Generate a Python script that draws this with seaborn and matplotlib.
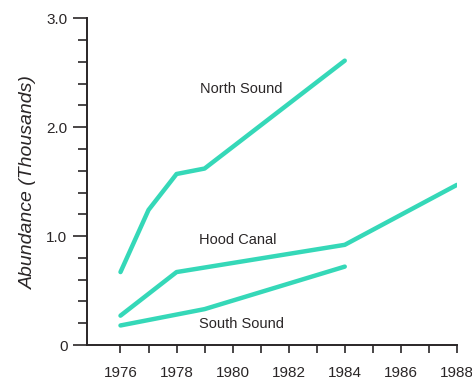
import matplotlib
matplotlib.use("Agg")
import matplotlib.pyplot as plt
import seaborn as sns
import pandas as pd
from matplotlib.ticker import FixedLocator

# data
north_years = [1976, 1977, 1978, 1979, 1984]
north_vals = [0.67, 1.24, 1.57, 1.62, 2.61]
hood_years = [1976, 1978, 1984, 1988]
hood_vals = [0.27, 0.67, 0.92, 1.47]
south_years = [1976, 1979, 1984]
south_vals = [0.18, 0.33, 0.72]

labels = ["North Sound", "Hood Canal", "South Sound"]
label_pos = [(1980.3, 2.35), (1980.2, 0.96), (1980.3, 0.19)]

df = pd.concat([
    pd.DataFrame({"Year": north_years, "Abundance": north_vals, "Site": "North Sound"}),
    pd.DataFrame({"Year": hood_years, "Abundance": hood_vals, "Site": "Hood Canal"}),
    pd.DataFrame({"Year": south_years, "Abundance": south_vals, "Site": "South Sound"}),
])

sns.set_style("white")
plt.rcParams["font.family"] = ["Liberation Sans", "DejaVu Sans"]

line_color = "#35d8b8"
ink = "#2a2627"

fig = plt.figure(figsize=(4.72, 3.86), dpi=100)
ax = fig.add_axes([0.184, 0.106, 0.784, 0.847])

sns.lineplot(data=df, x="Year", y="Abundance", units="Site", estimator=None,
             color=line_color, linewidth=3.2, ax=ax, legend=False, sort=False)

for lab, (x, y) in zip(labels, label_pos):
    ax.text(x, y, lab, ha="center", va="center", fontsize=10.5, color=ink)

ax.set_xlim(1974.8, 1988)
ax.set_ylim(0, 3.0)
ax.set_xticks(range(1976, 1989, 2))
ax.xaxis.set_minor_locator(FixedLocator(range(1977, 1988, 2)))
ax.set_yticks([0, 1.0, 2.0, 3.0])
ax.set_yticklabels(["0", "1.0", "2.0", "3.0"])
ax.yaxis.set_minor_locator(FixedLocator([0.2, 0.4, 0.6, 0.8, 1.2, 1.4, 1.6, 1.8,
                                         2.2, 2.4, 2.6, 2.8]))

for side in ["top", "right"]:
    ax.spines[side].set_visible(False)
for side in ["left", "bottom"]:
    ax.spines[side].set_color(ink)
    ax.spines[side].set_linewidth(1.4)

ax.tick_params(axis="y", which="major", direction="out", length=10, width=1.2,
               color=ink, labelsize=11, labelcolor=ink, pad=4, left=True)
ax.tick_params(axis="y", which="minor", direction="out", length=6.5, width=1.2,
               color=ink, left=True)
ax.tick_params(axis="x", which="both", direction="out", length=6, width=1.2,
               color=ink, labelsize=11, labelcolor=ink, pad=9, bottom=True)

ax.set_xlabel("")
ax.set_ylabel("Abundance (Thousands)", fontsize=14, style="italic", color=ink, labelpad=7)

fig.savefig("out.png", dpi=100)
